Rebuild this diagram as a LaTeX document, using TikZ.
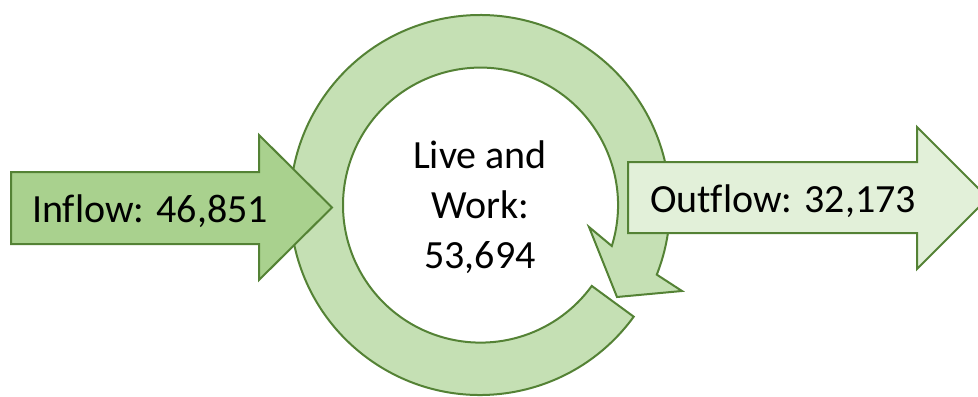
\documentclass[tikz,border=0pt]{standalone}
\usepackage{fontspec}
\setmainfont{Carlito}[Ligatures=NoCommon]
\definecolor{ringgreen}{HTML}{C5E0B4}
\definecolor{ingreen}{HTML}{A9D18E}
\definecolor{outgreen}{HTML}{E2F0D9}
\definecolor{edgegreen}{HTML}{548235}
\begin{document}
\begin{tikzpicture}[x=0.5pt,y=-0.5pt,every node/.style={font=\fontsize{20}{25}\selectfont, inner sep=0pt, outer sep=0pt},
  flowshape/.style={draw=edgegreen, line width=1pt, line join=miter}]
\useasboundingbox (0,0) rectangle (978,396);
\draw[flowshape,fill=ringgreen] (480,205) ++(36:190) arc[start angle=36,end angle=381.5,radius=190] -- (682,291) -- (617,297) -- (589,227) -- (611.8,246) arc[start angle=377.3,end angle=36,radius=137.5] -- cycle;
\draw[flowshape,fill=ingreen] (11,172) -- (259,172) -- (259,135) -- (332,207.5) -- (259,280) -- (259,244) -- (11,244) -- cycle;
\draw[flowshape,fill=outgreen] (628,162) -- (917,162) -- (917,127) -- (988,198) -- (917,269) -- (917,233) -- (628,233) -- cycle;
\node[anchor=base] (inflow) at (150,222) {Inflow: 46,851};
\node[anchor=base] (outflow) at (783,212) {Outflow: 32,173};
\node[align=center] (livework) at (480,207) {Live and\\Work:\\53,694};
\end{tikzpicture}
\end{document}
